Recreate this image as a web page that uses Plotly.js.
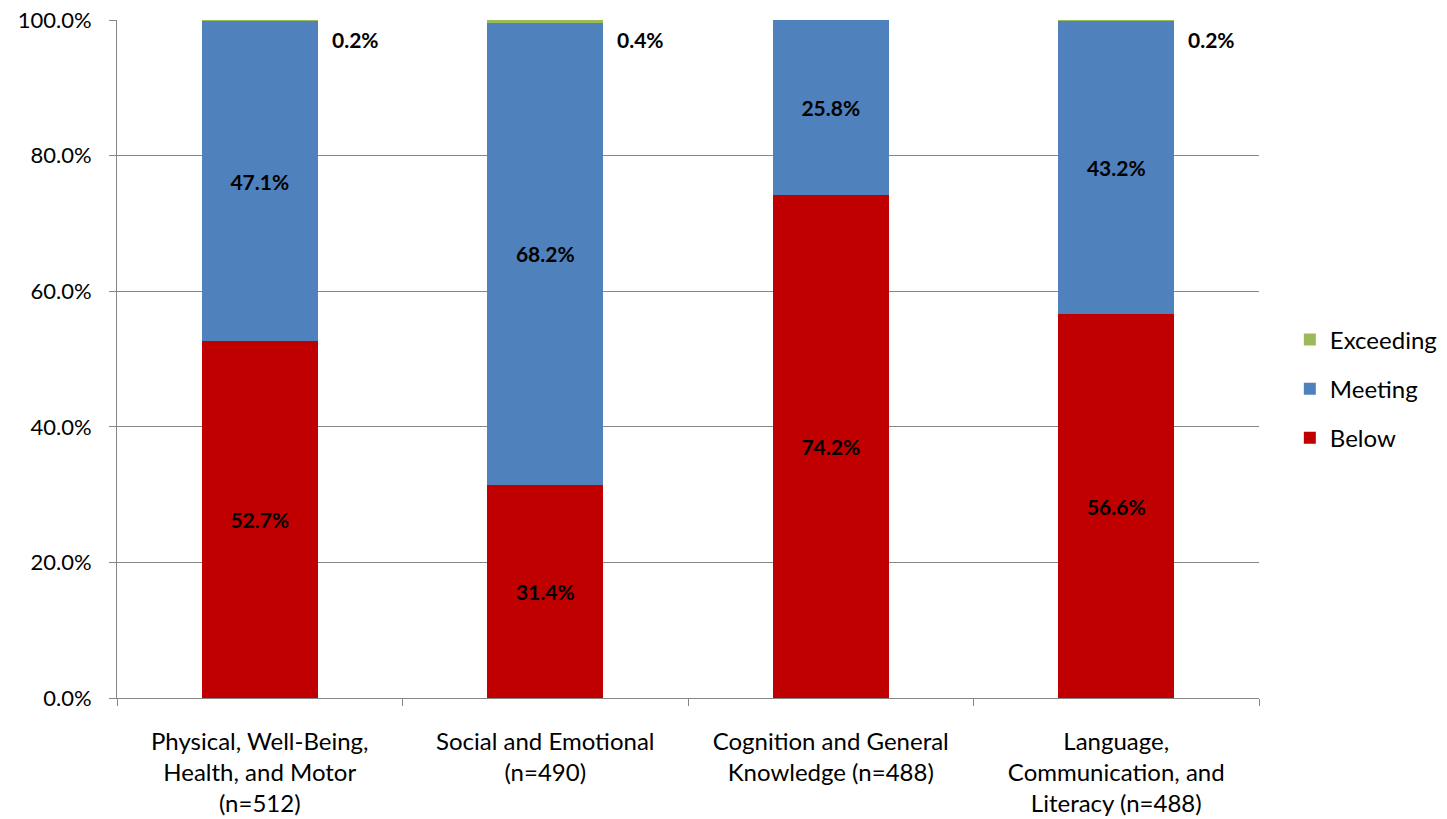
<!DOCTYPE html>
<html>
<head>
<meta charset="utf-8">
<script src="https://cdn.plot.ly/plotly-3.0.1.min.js"></script>
<style>
  html, body { margin: 0; padding: 0; background: #ffffff; }
  #chart { width: 1447px; height: 819px; }
</style>
</head>
<body>
<div id="chart"></div>
<script>
// Domain categories (x axis), with sample sizes
const categories = [
  'Physical, Well-Being,<br>Health, and Motor<br>(n=512)',
  'Social and Emotional<br>(n=490)',
  'Cognition and General<br>Knowledge (n=488)',
  'Language,<br>Communication, and<br>Literacy (n=488)'
];

// Percent of children in each readiness band
const below     = [52.7, 31.4, 74.2, 56.6];
const meeting   = [47.1, 68.2, 25.8, 43.2];
const exceeding = [0.2, 0.4, 0.0, 0.2];

const FONT = 'Lato, "Open Sans", sans-serif';
const labelFont = { family: FONT, size: 21, color: '#000000' };

function stackTrace(name, values, color, rank, showText) {
  return {
    type: 'bar',
    name: name,
    x: categories,
    y: values,
    marker: { color: color, line: { width: 0 } },
    legendgroup: name,
    legendrank: rank,
    text: showText ? values.map(v => '<b>' + v.toFixed(1) + '%</b>') : undefined,
    textposition: showText ? 'inside' : 'none',
    insidetextanchor: 'middle',
    textfont: labelFont,
    constraintext: 'none',
    hoverinfo: 'skip'
  };
}

const traces = [
  stackTrace('Below', below, '#C00000', 3, true),
  stackTrace('Meeting', meeting, '#4F81BD', 2, true),
  stackTrace('Exceeding', exceeding, '#9BBB59', 1, false)
];

// Small "Exceeding" shares are labelled beside the top of each stack
const annotations = [];
categories.forEach((c, i) => {
  if (exceeding[i] > 0) {
    const top = Math.round((below[i] + meeting[i] + exceeding[i]) * 10) / 10;
    annotations.push({
      x: c,
      y: Math.min(top, 100),
      xref: 'x', yref: 'y',
      text: '<b>' + exceeding[i].toFixed(1) + '%</b>',
      showarrow: false,
      xanchor: 'left',
      yanchor: 'middle',
      xshift: 70,
      yshift: -19,
      font: labelFont
    });
  }
});

const layout = {
  width: 1447,
  height: 819,
  margin: { l: 117, r: 188, t: 20, b: 121, autoexpand: false },
  paper_bgcolor: '#ffffff',
  plot_bgcolor: '#ffffff',
  font: { family: FONT, size: 22, color: '#000000' },
  barmode: 'stack',
  bargap: 0.595,
  showlegend: true,
  legend: {
    x: 1.027, xanchor: 'left',
    y: 0.456, yanchor: 'middle',
    traceorder: 'grouped',
    tracegroupgap: 15,
    font: { family: FONT, size: 24, color: '#000000' },
    itemwidth: 30
  },
  xaxis: {
    type: 'category',
    showline: true,
    linecolor: '#868686',
    linewidth: 1,
    ticks: 'outside',
    tickson: 'boundaries',
    ticklen: 7,
    tickcolor: '#868686',
    showgrid: false,
    tickfont: { family: FONT, size: 24, color: '#000000' },
    ticklabelstandoff: 22,
    fixedrange: true
  },
  yaxis: {
    range: [0, 100],
    dtick: 20,
    tick0: 0,
    tickformat: '.1f',
    ticksuffix: '%',
    showline: true,
    linecolor: '#868686',
    linewidth: 1,
    ticks: 'outside',
    ticklen: 7,
    tickcolor: '#868686',
    showgrid: true,
    gridcolor: '#868686',
    gridwidth: 1,
    zeroline: false,
    tickfont: { family: FONT, size: 22, color: '#000000' },
    ticklabelstandoff: 13,
    fixedrange: true
  },
  annotations: annotations
};

Plotly.newPlot('chart', traces, layout, { displayModeBar: false, staticPlot: true });
</script>
</body>
</html>
